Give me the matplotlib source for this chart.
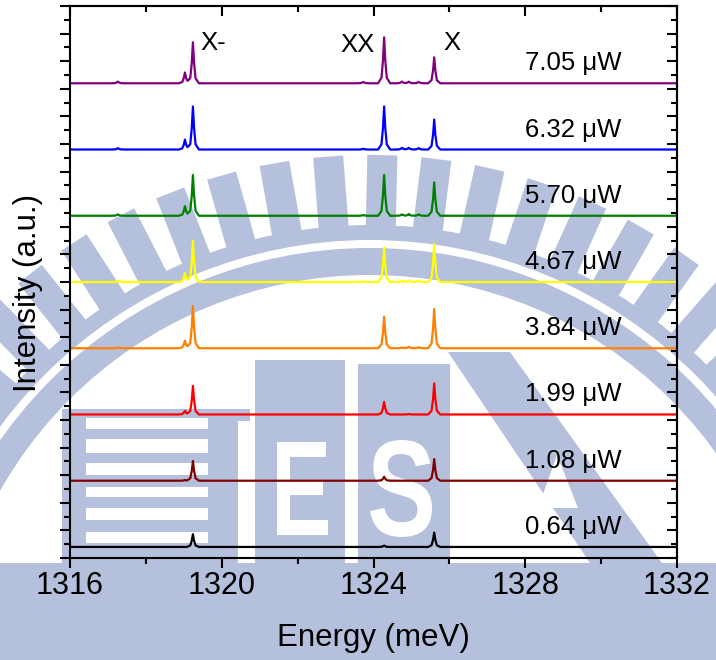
import numpy as np
import matplotlib
matplotlib.use('Agg')
import matplotlib.pyplot as plt
from matplotlib.ticker import MultipleLocator, NullFormatter
from matplotlib.patches import Rectangle, Wedge, Polygon, PathPatch
from matplotlib.textpath import TextPath
from matplotlib.font_manager import FontProperties
from matplotlib.transforms import Affine2D

plt.rcParams['font.family'] = ['Liberation Sans', 'DejaVu Sans']

# excitation powers, bottom to top
powers = ['0.64', '1.08', '1.99', '3.84', '4.67', '5.70', '6.32', '7.05']
colors = ['black', '#800000', '#ff0000', '#ff8000', '#ffff00', '#008000', '#0000ff', '#800080']
offsets = [0.8, 5.6, 10.4, 15.2, 20.0, 24.8, 29.6, 34.4]

# peak energies (meV): weak line, X- shoulder, X-, weak line, XX, three weak lines, X
peak_E = [1317.26, 1319.03, 1319.24, 1323.73, 1324.28, 1324.75, 1324.93, 1325.19, 1325.60]

# peak heights above the baseline for each power
h_064 = [0.00, 0.00, 0.92, 0.00, 0.10, 0.00, 0.00, 0.00, 1.04]
h_108 = [0.00, 0.05, 1.43, 0.00, 0.29, 0.00, 0.00, 0.00, 1.57]
h_199 = [0.00, 0.26, 2.07, 0.00, 0.91, 0.00, 0.03, 0.00, 2.25]
h_384 = [0.05, 0.55, 3.07, 0.00, 2.29, 0.05, 0.10, 0.08, 2.85]
h_467 = [0.10, 0.65, 2.99, 0.05, 2.51, 0.08, 0.10, 0.08, 2.78]
h_570 = [0.10, 0.70, 2.95, 0.05, 2.95, 0.10, 0.12, 0.10, 2.42]
h_632 = [0.10, 0.72, 3.12, 0.05, 3.12, 0.12, 0.12, 0.10, 2.17]
h_705 = [0.12, 0.78, 2.97, 0.10, 3.33, 0.12, 0.12, 0.10, 1.88]
heights = [h_064, h_108, h_199, h_384, h_467, h_570, h_632, h_705]

# line shape of a single peak (offset from centre in meV, fraction of height)
shape_dE = [-0.16, -0.07, -0.03, 0.0, 0.03, 0.07, 0.16]
shape_f = [0.0, 0.12, 0.5, 1.0, 0.5, 0.12, 0.0]

fig = plt.figure(figsize=(7.16, 6.6), dpi=100)

# ---- faded logo in the background (pixel coordinates) ----
bg = fig.add_axes([0, 0, 1, 1])
bg.set_xlim(0, 716)
bg.set_ylim(660, 0)
bg.axis('off')
bg.set_zorder(0)
wm = '#b5c0dc'

cx, cy = 370, 700
bg.add_patch(Wedge((cx, cy), 475, 0, 360, width=15, color=wm, lw=0))
bg.add_patch(Wedge((cx, cy), 452, 0, 360, width=27, color=wm, lw=0))
for a in np.arange(-4.4 - 5.7 * 12, 70, 5.7):
    t = np.radians(a)
    u = np.array([np.sin(t), -np.cos(t)])
    n = np.array([np.cos(t), np.sin(t)])
    c = np.array([cx, cy])
    pts = [c + u * 474 - n * 15, c + u * 545 - n * 15, c + u * 545 + n * 15, c + u * 474 + n * 15]
    bg.add_patch(Polygon(pts, closed=True, color=wm, lw=0))

# bottom band
bg.add_patch(Rectangle((0, 563), 716, 97, color=wm, lw=0))

# striped block
bg.add_patch(Rectangle((62, 409), 188, 12, color=wm, lw=0))
bg.add_patch(Rectangle((62, 409), 176, 154, color=wm, lw=0))
for y0, y1 in [(418, 429), (439, 453), (463, 475), (487, 497), (508, 520), (532, 543)]:
    bg.add_patch(Rectangle((86, y0), 122, y1 - y0, color='white', lw=0))


def letter(ch, x0, x1, y0, y1):
    tp = TextPath((0, 0), ch, size=100,
                  prop=FontProperties(family='Liberation Sans', weight='bold'))
    ext = tp.get_extents()
    tr = (Affine2D().translate(-ext.x0, -ext.y0)
          .scale((x1 - x0) / ext.width, -(y1 - y0) / ext.height)
          .translate(x0, y1))
    bg.add_patch(PathPatch(tr.transform_path(tp), color='white', lw=0))


bg.add_patch(Rectangle((255, 360), 90, 203, color=wm, lw=0))
letter('E', 277, 328, 442, 535)
bg.add_patch(Rectangle((358, 364), 92, 199, color=wm, lw=0))
letter('S', 370, 432, 440, 537)

# diagonal stroke on the right
bg.add_patch(Polygon([(448, 352), (510, 352), (662, 563), (590, 563)], color=wm, lw=0))
bg.add_patch(Polygon([(557, 455), (578, 508), (538, 508)], color='white', lw=0))

# ---- spectra ----
ax = fig.add_axes([70 / 716, 102 / 660, 607 / 716, 552 / 660])
ax.set_zorder(1)
ax.set_facecolor('none')

nodes = np.unique(np.concatenate([[1316.0, 1332.0]] +
                                 [np.array(shape_dE) + e for e in peak_E]))
for pw, col, off, hs in zip(powers, colors, offsets, heights):
    y = np.full_like(nodes, off)
    for e, h in zip(peak_E, hs):
        y += h * np.interp(nodes, np.array(shape_dE) + e, shape_f)
    ax.plot(nodes, y, color=col, lw=1.6)
    ax.text(1328.0, off + 1.45, pw + ' \u03bcW', fontsize=18.5, ha='left', va='center')

ax.text(1319.43, 37.3, 'X-', fontsize=18.5, va='center')
ax.text(1323.12, 37.2, 'XX', fontsize=18.5, va='center')
ax.text(1325.83, 37.3, 'X', fontsize=18.5, va='center')

ax.set_xlim(1316, 1332)
ax.set_ylim(0, 40)
ax.xaxis.set_major_locator(MultipleLocator(4))
ax.xaxis.set_minor_locator(MultipleLocator(2))
ax.yaxis.set_major_locator(MultipleLocator(2))
ax.yaxis.set_minor_locator(MultipleLocator(1))
ax.yaxis.set_major_formatter(NullFormatter())
ax.tick_params(which='both', direction='out', width=1.5, top=False, right=False)
ax.tick_params(which='major', length=7.2, labelsize=22, pad=2)
ax.tick_params(which='minor', length=4)
for s in ax.spines.values():
    s.set_linewidth(1.5)

top = ax.secondary_xaxis('top')
top.xaxis.set_major_locator(MultipleLocator(4))
top.xaxis.set_minor_locator(MultipleLocator(2))
top.tick_params(which='both', direction='in', width=1.5, labeltop=False)
top.tick_params(which='major', length=7.2)
top.tick_params(which='minor', length=4)
right = ax.secondary_yaxis('right')
right.yaxis.set_major_locator(MultipleLocator(2))
right.yaxis.set_minor_locator(MultipleLocator(1))
right.tick_params(which='both', direction='in', width=1.5, labelright=False)
right.tick_params(which='major', length=7.2)
right.tick_params(which='minor', length=4)
for sec in (top, right):
    for s in sec.spines.values():
        s.set_linewidth(1.5)

ax.set_xlabel('Energy (meV)', fontsize=22.5)
ax.xaxis.set_label_coords(0.5, -0.118)
ax.set_ylabel('Intensity (a.u.)', fontsize=22.5, va='center')
ax.yaxis.set_label_coords(-0.069, 0.48)

fig.savefig('out.png', dpi=100)
